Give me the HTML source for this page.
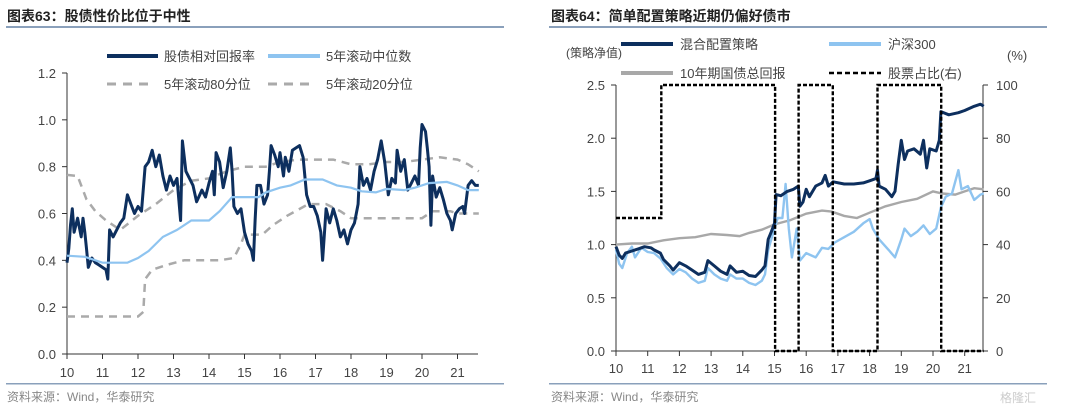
<!DOCTYPE html>
<html><head><meta charset="utf-8"><style>
body{margin:0;background:#fff;width:1080px;height:413px;overflow:hidden;font-family:"Liberation Sans","Noto Sans CJK SC",sans-serif}
svg text{font-family:"Liberation Sans","Noto Sans CJK SC",sans-serif}
</style></head><body>
<svg id="s" width="1080" height="413">
<g>
<text x="7" y="21" font-size="14" font-weight="bold" fill="#222">图表63：股债性价比位于中性</text>
<rect x="6" y="26" width="498" height="2" fill="#8aa0bb"/>
<rect x="6" y="383" width="498" height="1.5" fill="#8aa0bb"/>
<text x="7" y="401" font-size="12" fill="#888">资料来源：Wind，华泰研究</text>
</g>
<g>
<text x="551" y="21" font-size="14" font-weight="bold" fill="#222">图表64：简单配置策略近期仍偏好债市</text>
<rect x="549" y="26" width="498" height="2" fill="#8aa0bb"/>
<rect x="549" y="383" width="498" height="1.5" fill="#8aa0bb"/>
<text x="551" y="401" font-size="12" fill="#888">资料来源：Wind，华泰研究</text>
<text x="1000" y="402" font-size="12" fill="#ccc">格隆汇</text>
</g>
<g id="L"></g>
<g id="R"></g>
</svg>
<script>
// ---- left chart data ----
const lDates=[2010,2010.05,2010.1,2010.15,2010.2,2010.3,2010.4,2010.45,2010.5,2010.55,2010.6,2010.7,2010.8,2010.9,2011,2011.1,2011.15,2011.2,2011.3,2011.4,2011.5,2011.6,2011.7,2011.8,2011.9,2012,2012.1,2012.2,2012.3,2012.4,2012.5,2012.6,2012.7,2012.8,2012.9,2013,2013.1,2013.2,2013.25,2013.35,2013.45,2013.55,2013.65,2013.8,2013.9,2014,2014.1,2014.15,2014.2,2014.3,2014.4,2014.5,2014.6,2014.65,2014.7,2014.8,2014.9,2015,2015.1,2015.2,2015.25,2015.3,2015.35,2015.45,2015.55,2015.65,2015.7,2015.75,2015.85,2015.95,2016,2016.1,2016.15,2016.25,2016.35,2016.45,2016.55,2016.65,2016.75,2016.85,2016.95,2017.05,2017.15,2017.2,2017.3,2017.4,2017.5,2017.6,2017.7,2017.8,2017.9,2018,2018.1,2018.2,2018.25,2018.35,2018.45,2018.55,2018.65,2018.75,2018.85,2018.95,2019.05,2019.15,2019.25,2019.3,2019.4,2019.5,2019.6,2019.7,2019.8,2019.9,2019.95,2020,2020.1,2020.15,2020.2,2020.25,2020.3,2020.4,2020.5,2020.6,2020.7,2020.8,2020.85,2020.95,2021.05,2021.15,2021.2,2021.3,2021.4,2021.5,2021.6];
const lRatio=[0.39,0.45,0.55,0.62,0.52,0.58,0.5,0.58,0.52,0.45,0.37,0.41,0.39,0.38,0.37,0.36,0.32,0.53,0.5,0.53,0.56,0.58,0.68,0.64,0.6,0.63,0.61,0.8,0.82,0.87,0.8,0.85,0.76,0.7,0.76,0.72,0.75,0.57,0.91,0.78,0.75,0.72,0.65,0.7,0.67,0.73,0.78,0.68,0.86,0.82,0.71,0.78,0.88,0.78,0.63,0.6,0.62,0.52,0.47,0.44,0.4,0.57,0.72,0.72,0.64,0.68,0.78,0.89,0.85,0.8,0.86,0.76,0.84,0.78,0.87,0.88,0.89,0.84,0.68,0.63,0.63,0.59,0.52,0.4,0.62,0.56,0.62,0.57,0.5,0.53,0.47,0.53,0.56,0.64,0.8,0.72,0.75,0.7,0.78,0.83,0.91,0.82,0.68,0.75,0.73,0.87,0.78,0.83,0.7,0.73,0.76,0.72,0.88,0.98,0.95,0.88,0.8,0.55,0.76,0.67,0.71,0.66,0.6,0.57,0.53,0.6,0.62,0.63,0.6,0.72,0.74,0.72,0.72];
const lMedDates=[2010,2010.5,2011,2011.7,2012,2012.3,2012.7,2013.1,2013.5,2014,2014.3,2014.65,2015,2015.4,2015.6,2016,2016.3,2016.7,2017.2,2017.6,2018,2018.3,2018.7,2019,2019.5,2019.8,2020.2,2020.7,2021,2021.3,2021.6];
const lMed=[0.42,0.415,0.39,0.39,0.41,0.44,0.5,0.53,0.57,0.57,0.61,0.67,0.67,0.67,0.69,0.71,0.72,0.745,0.745,0.72,0.71,0.695,0.69,0.705,0.7,0.71,0.73,0.735,0.72,0.7,0.7];
const lP80Dates=[2010,2010.3,2010.55,2010.8,2011.1,2011.5,2012,2012.5,2013,2013.5,2014,2014.5,2015,2015.6,2016,2016.5,2017,2017.5,2018,2018.5,2019,2019.5,2020,2020.5,2021,2021.3,2021.6];
const lP80=[0.765,0.76,0.66,0.61,0.57,0.53,0.59,0.64,0.7,0.74,0.75,0.78,0.8,0.8,0.82,0.83,0.83,0.83,0.81,0.81,0.82,0.82,0.83,0.84,0.83,0.81,0.78];
const lP20Dates=[2010,2011,2012,2012.15,2012.2,2012.4,2012.8,2013.3,2013.8,2014.3,2014.7,2014.9,2015,2015.5,2015.8,2016.2,2016.8,2017.3,2017.7,2018,2018.5,2019,2019.5,2020,2020.3,2020.8,2021,2021.6];
const lP20=[0.16,0.16,0.16,0.18,0.32,0.36,0.38,0.4,0.4,0.4,0.41,0.47,0.51,0.51,0.55,0.59,0.64,0.64,0.61,0.58,0.58,0.58,0.58,0.58,0.61,0.61,0.6,0.6];
const lYTicks=[0,0.2,0.4,0.6,0.8,1.0,1.2];
const xTickLabels=["10","11","12","13","14","15","16","17","18","19","20","21"];
// ---- right chart data ----
const rMixDates=[2010,2010.1,2010.2,2010.3,2010.5,2010.7,2010.9,2011.1,2011.2,2011.4,2011.5,2011.7,2011.8,2012,2012.2,2012.4,2012.6,2012.8,2012.9,2013.1,2013.3,2013.5,2013.6,2013.8,2014,2014.2,2014.4,2014.6,2014.7,2014.8,2014.9,2015,2015.05,2015.2,2015.4,2015.6,2015.75,2015.8,2015.9,2016,2016.1,2016.3,2016.5,2016.6,2016.7,2016.85,2017.2,2017.5,2017.8,2018,2018.2,2018.25,2018.3,2018.5,2018.7,2018.8,2018.9,2019,2019.1,2019.2,2019.4,2019.6,2019.7,2019.8,2019.9,2020.1,2020.2,2020.25,2020.5,2020.8,2021,2021.3,2021.5,2021.6];
const rMix=[0.98,0.9,0.87,0.92,0.94,0.96,0.98,0.97,0.95,0.92,0.86,0.8,0.76,0.83,0.8,0.76,0.72,0.74,0.85,0.8,0.75,0.72,0.8,0.74,0.75,0.71,0.7,0.76,0.8,1.05,1.12,1.2,1.47,1.46,1.5,1.52,1.55,1.36,1.4,1.52,1.45,1.55,1.58,1.65,1.55,1.59,1.57,1.57,1.58,1.6,1.62,1.7,1.55,1.52,1.45,1.5,1.75,1.98,1.8,1.88,1.9,1.85,1.98,1.72,1.9,1.88,1.98,2.25,2.22,2.24,2.26,2.3,2.32,2.3];
const rCsiDates=[2010,2010.1,2010.2,2010.35,2010.5,2010.6,2010.8,2011,2011.2,2011.4,2011.6,2011.8,2012,2012.2,2012.4,2012.6,2012.8,2012.9,2013.1,2013.3,2013.5,2013.6,2013.8,2014,2014.2,2014.4,2014.6,2014.7,2014.8,2014.9,2015,2015.1,2015.25,2015.35,2015.45,2015.55,2015.7,2015.8,2016,2016.3,2016.5,2016.7,2016.9,2017.2,2017.5,2017.8,2018,2018.1,2018.3,2018.6,2018.8,2019,2019.1,2019.3,2019.5,2019.7,2019.9,2020.1,2020.25,2020.4,2020.6,2020.8,2020.9,2021.1,2021.3,2021.5,2021.6];
const rCsi=[0.95,0.82,0.78,0.92,0.98,0.88,0.97,0.93,0.92,0.87,0.78,0.72,0.77,0.74,0.68,0.64,0.66,0.78,0.72,0.68,0.66,0.72,0.68,0.68,0.64,0.62,0.66,0.72,0.95,1.05,1.15,1.25,1.25,1.57,1.15,0.88,1.15,0.85,0.92,0.88,0.97,0.96,1.02,1.07,1.12,1.2,1.24,1.15,1.05,0.95,0.88,1.05,1.15,1.08,1.12,1.18,1.1,1.15,1.35,1.45,1.48,1.7,1.52,1.55,1.42,1.47,1.48];
const rBondDates=[2010,2010.5,2011,2011.5,2012,2012.5,2013,2013.5,2013.9,2014.2,2014.6,2015,2015.5,2016,2016.5,2016.8,2017.2,2017.6,2018,2018.5,2019,2019.5,2020,2020.3,2020.7,2021,2021.3,2021.6];
const rBond=[1.0,1.01,1.01,1.04,1.06,1.07,1.1,1.09,1.08,1.11,1.14,1.19,1.23,1.29,1.32,1.31,1.27,1.25,1.3,1.36,1.4,1.43,1.5,1.48,1.47,1.5,1.53,1.52];
const rShareDates=[2010,2011.43,2011.43,2015.02,2015.02,2015.76,2015.76,2016.84,2016.84,2018.25,2018.25,2020.26,2020.26,2021.6];
const rShare=[50,50,100,100,0,0,100,100,0,0,100,100,0,0];
const rYTicks=[0,0.5,1.0,1.5,2.0,2.5];
const rY2Ticks=[0,20,40,60,80,100];

const NS="http://www.w3.org/2000/svg";
function el(p,t,a){const e=document.createElementNS(NS,t);for(const k in a)e.setAttribute(k,a[k]);p.appendChild(e);return e;}
function txt(p,x,y,s,a){const e=el(p,'text',Object.assign({x:x,y:y,'font-size':13,fill:'#444'},a));e.textContent=s;return e;}
function path(p,xs,ys,fx,fy,a){let d='';for(let i=0;i<xs.length;i++)d+=(i?'L':'M')+fx(xs[i]).toFixed(1)+','+fy(ys[i]).toFixed(1);return el(p,'path',Object.assign({d:d,fill:'none'},a));}

// LEFT
const L=document.getElementById('L');
const lx=v=>67+(v-2010)*35.5, ly=v=>354-v/1.2*281;
el(L,'line',{x1:67,y1:73,x2:67,y2:354,stroke:'#333'});
el(L,'line',{x1:67,y1:354,x2:478,y2:354,stroke:'#333'});
lYTicks.forEach(t=>{el(L,'line',{x1:62,x2:67,y1:ly(t),y2:ly(t),stroke:'#333'});const e=txt(L,56,ly(t)+5,t.toFixed(1),{'text-anchor':'end'});});
xTickLabels.forEach((s,i)=>{el(L,'line',{x1:lx(2010+i),x2:lx(2010+i),y1:354,y2:359,stroke:'#333'});const e=txt(L,lx(2010+i),377,s,{'text-anchor':'middle'});});
let p;
p=path(L,lP80Dates,lP80,lx,ly,{stroke:'#aaa','stroke-width':2.5,'stroke-dasharray':'8,6'});
p=path(L,lP20Dates,lP20,lx,ly,{stroke:'#aaa','stroke-width':2.5,'stroke-dasharray':'8,6'});
p=path(L,lDates,lRatio,lx,ly,{stroke:'#0d2f5e','stroke-width':3,'stroke-linejoin':'round'});
p=path(L,lMedDates,lMed,lx,ly,{stroke:'#8ec4f0','stroke-width':2.2});
el(L,'line',{x1:107,x2:158,y1:56,y2:56,stroke:'#0d2f5e','stroke-width':4});txt(L,164,61,'股债相对回报率');
el(L,'line',{x1:268,x2:320,y1:56,y2:56,stroke:'#8ec4f0','stroke-width':4});txt(L,326,61,'5年滚动中位数');
el(L,'line',{x1:107,x2:152,y1:84,y2:84,stroke:'#aaa','stroke-width':3,'stroke-dasharray':'9,7'});txt(L,164,89,'5年滚动80分位');
el(L,'line',{x1:268,x2:313,y1:84,y2:84,stroke:'#aaa','stroke-width':3,'stroke-dasharray':'9,7'});txt(L,326,89,'5年滚动20分位');

// RIGHT
const R=document.getElementById('R');
const rx=v=>616+(v-2010)*31.7, ry=v=>351-v/2.5*266, ry2=v=>351-v/100*266;
el(R,'line',{x1:616,y1:85,x2:616,y2:351,stroke:'#333'});
el(R,'line',{x1:983,y1:85,x2:983,y2:351,stroke:'#333'});
el(R,'line',{x1:616,y1:351,x2:983,y2:351,stroke:'#333'});
rYTicks.forEach(t=>{el(R,'line',{x1:611,x2:616,y1:ry(t),y2:ry(t),stroke:'#333'});const e=txt(R,605,ry(t)+5,t.toFixed(1),{'text-anchor':'end'});});
rY2Ticks.forEach(t=>{el(R,'line',{x1:983,x2:988,y1:ry2(t),y2:ry2(t),stroke:'#333'});const e=txt(R,996,ry2(t)+5,String(t));});
xTickLabels.forEach((s,i)=>{el(R,'line',{x1:rx(2010+i),x2:rx(2010+i),y1:351,y2:356,stroke:'#333'});const e=txt(R,rx(2010+i),373,s,{'text-anchor':'middle'});});
p=path(R,rBondDates,rBond,rx,ry,{stroke:'#a8a8a8','stroke-width':2.4});
p=path(R,rCsiDates,rCsi,rx,ry,{stroke:'#8ec4f0','stroke-width':2.4,'stroke-linejoin':'round'});
p=path(R,rMixDates,rMix,rx,ry,{stroke:'#0d2f5e','stroke-width':3,'stroke-linejoin':'round'});
p=path(R,rShareDates,rShare,rx,ry2,{stroke:'#000','stroke-width':2.4,'stroke-dasharray':'4,2'});
txt(R,566,57,'(策略净值)',{'font-size':12});
txt(R,1007,60,'(%)');
el(R,'line',{x1:621,x2:673,y1:44,y2:44,stroke:'#0d2f5e','stroke-width':4});txt(R,680,49,'混合配置策略');
el(R,'line',{x1:829,x2:881,y1:44,y2:44,stroke:'#8ec4f0','stroke-width':4});txt(R,888,49,'沪深300');
el(R,'line',{x1:621,x2:673,y1:73,y2:73,stroke:'#a8a8a8','stroke-width':4});txt(R,680,78,'10年期国债总回报');
el(R,'line',{x1:829,x2:881,y1:73,y2:73,stroke:'#000','stroke-width':2.5,'stroke-dasharray':'5,3'});txt(R,888,78,'股票占比(右)');
</script>
</body></html>
